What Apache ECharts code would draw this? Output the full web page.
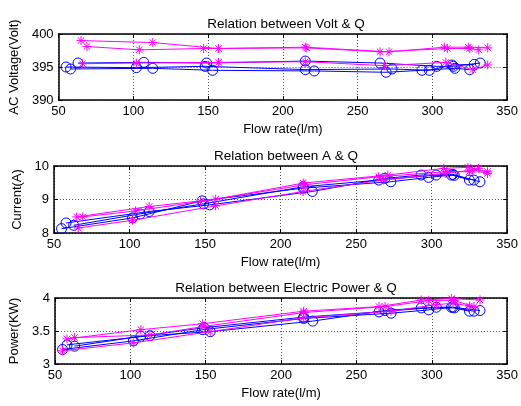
<!DOCTYPE html>
<html><head><meta charset="utf-8">
<script src="https://cdn.jsdelivr.net/npm/echarts@6/dist/echarts.min.js"></script>
<style>html,body{margin:0;padding:0;background:#fff}#c{width:521px;height:406px}</style>
</head><body><div id="c"></div>
<script>
// Flow rates (l/m) for the three blue (o) runs – shared by all panels
const flowBlue1 = [63, 107, 149, 215, 265, 303, 314, 332];
const flowBlue2 = [55, 102, 148, 215, 273, 298, 313, 328];
const flowBlue3 = [58, 113, 153, 221, 269, 293, 315, 325];
// Flow rates for magenta (*) runs in Volt and Current panels
const flowMag1 = [65, 113, 157, 215, 271, 308, 324, 337];
const flowMag2 = [69, 104, 147, 216, 265, 310, 325, 331];
const flowMag3 = [66, 102, 157, 215, 268, 309, 327, 337];
// Flow rates for magenta (*) runs in Power panel
const flowPow1 = [58, 107, 148, 215, 265, 293, 313, 332];
const flowPow2 = [63, 113, 149, 215, 269, 298, 315, 328];
const flowPow3 = [55, 102, 153, 215, 273, 303, 314, 325];

// Voltage (Volt)
const voltBlue1 = [395.6, 395.7, 395.6, 395.9, 395.6, 395.1, 395.1, 395.6];
const voltBlue2 = [395.0, 394.9, 395.1, 394.6, 394.7, 394.5, 395.3, 395.4];
const voltBlue3 = [394.7, 394.8, 394.5, 394.4, 394.2, 394.5, 394.8, 394.6];
const voltMag1 = [399.0, 398.7, 397.8, 398.0, 397.3, 398.0, 398.0, 397.9];
const voltMag2 = [398.1, 397.6, 397.8, 397.9, 397.3, 397.8, 397.8, 397.6];
const voltMag3 = [395.5, 395.6, 395.7, 395.8, 395.2, 395.7, 394.6, 395.3];

// Current (A)
const ampBlue1 = [8.23, 8.57, 8.87, 9.38, 9.58, 9.73, 9.75, 9.53];
const ampBlue2 = [8.13, 8.45, 8.96, 9.34, 9.53, 9.66, 9.73, 9.58];
const ampBlue3 = [8.30, 8.64, 8.84, 9.24, 9.63, 9.73, 9.72, 9.58];
const ampMag1 = [8.48, 8.79, 9.01, 9.49, 9.73, 9.93, 9.96, 9.83];
const ampMag2 = [8.48, 8.66, 8.94, 9.44, 9.68, 9.83, 9.83, 9.93];
const ampMag3 = [8.15, 8.38, 8.81, 9.24, 9.58, 9.78, 9.88, 9.78];

// Power (KW)
const powBlue1 = [3.27, 3.42, 3.55, 3.71, 3.79, 3.86, 3.86, 3.81];
const powBlue2 = [3.22, 3.35, 3.52, 3.69, 3.77, 3.82, 3.86, 3.80];
const powBlue3 = [3.29, 3.43, 3.49, 3.65, 3.81, 3.85, 3.85, 3.80];
const powMag1 = [3.38, 3.52, 3.61, 3.80, 3.87, 3.97, 3.99, 3.97];
const powMag2 = [3.40, 3.44, 3.57, 3.78, 3.87, 3.96, 3.96, 3.87];
const powMag3 = [3.20, 3.32, 3.49, 3.70, 3.80, 3.90, 3.92, 3.88];

const titles = ['Relation between Volt & Q', 'Relation between A & Q', 'Relation between Electric Power & Q'];
const yNames = ['AC Voltage(Volt)', 'Current(A)', 'Power(KW)'];
const yRanges = [[390, 400, 5], [8, 10, 1], [3, 4, 0.5]];
const xRange = [50, 350, 50];
const xName = 'Flow rate(l/m)';

const FONT = 'Liberation Sans, Arial, sans-serif';
const gridTops = [34, 166, 298];
const gridH = [66, 67, 66];
const yNameGaps = [32, 25, 30];

const zip = (xs, ys) => xs.map((x, i) => [x, ys[i]]);
const star = 'path://M0,-5L0,5M-5,0L5,0M-3.6,-3.6L3.6,3.6M-3.6,3.6L3.6,-3.6';

const grids = [], xAxes = [], yAxes = [], series = [], titleArr = [];
const blueSets = [[voltBlue1, voltBlue2, voltBlue3], [ampBlue1, ampBlue2, ampBlue3], [powBlue1, powBlue2, powBlue3]];
const magSets = [[voltMag1, voltMag2, voltMag3], [ampMag1, ampMag2, ampMag3], [powMag1, powMag2, powMag3]];
const blueFlows = [flowBlue1, flowBlue2, flowBlue3];
const magFlows = [[flowMag1, flowMag2, flowMag3], [flowMag1, flowMag2, flowMag3], [flowPow1, flowPow2, flowPow3]];

for (let p = 0; p < 3; p++) {
  grids.push({left: 54, width: 455, top: gridTops[p], height: gridH[p], containLabel: false});
  titleArr.push({text: titles[p], left: 281, top: gridTops[p] - 22, textAlign: 'center',
    textStyle: {fontFamily: FONT, fontSize: 13.5, fontWeight: 'normal', color: '#000'}});
  const axLine = {show: true, lineStyle: {color: '#000', width: 1.5}};
  const grid = {show: true, lineStyle: {color: '#555', type: [1, 2], width: 1}};
  xAxes.push({type: 'value', gridIndex: p, min: xRange[0], max: xRange[1], interval: xRange[2],
    position: 'bottom', axisLine: axLine, axisTick: {inside: true, length: 4, lineStyle: {color: '#000'}},
    axisLabel: {fontFamily: FONT, fontSize: 13, color: '#000', margin: 5},
    splitLine: grid, name: xName, nameLocation: 'middle', nameGap: 23,
    nameTextStyle: {fontFamily: FONT, fontSize: 13, color: '#000'}});
  xAxes.push({type: 'value', gridIndex: p, min: xRange[0], max: xRange[1], interval: xRange[2],
    position: 'top', axisLine: axLine, axisTick: {inside: true, length: 4, lineStyle: {color: '#000'}},
    axisLabel: {show: false}, splitLine: {show: false}});
  const r = yRanges[p];
  yAxes.push({type: 'value', gridIndex: p, min: r[0], max: r[1], interval: r[2], position: 'left',
    axisLine: axLine, axisTick: {inside: true, length: 4, lineStyle: {color: '#000'}},
    axisLabel: {fontFamily: FONT, fontSize: 13, color: '#000', margin: 5},
    splitLine: grid, name: yNames[p], nameLocation: 'middle', nameGap: yNameGaps[p], nameRotate: 90,
    nameTextStyle: {fontFamily: FONT, fontSize: 13, color: '#000'}});
  yAxes.push({type: 'value', gridIndex: p, min: r[0], max: r[1], interval: r[2], position: 'right',
    axisLine: axLine, axisTick: {inside: true, length: 4, lineStyle: {color: '#000'}},
    axisLabel: {show: false}, splitLine: {show: false}});

  for (let k = 0; k < 3; k++) {
    series.push({type: 'line', xAxisIndex: 2 * p, yAxisIndex: 2 * p,
      data: zip(blueFlows[k], blueSets[p][k]), symbol: 'circle', symbolSize: 10,
      lineStyle: {color: '#0000ff', width: 1}, itemStyle: {color: 'rgba(0,0,0,0)', borderColor: '#0000ff', borderWidth: 1},
      animation: false, z: 3});
  }
  for (let k = 0; k < 3; k++) {
    series.push({type: 'line', xAxisIndex: 2 * p, yAxisIndex: 2 * p,
      data: zip(magFlows[p][k], magSets[p][k]), symbol: star, symbolSize: 9,
      lineStyle: {color: '#ff00ff', width: 1}, itemStyle: {color: 'rgba(0,0,0,0)', borderColor: '#ff00ff', borderWidth: 1},
      animation: false, z: 4});
  }
}

const chart = echarts.init(document.getElementById('c'), null, {renderer: 'canvas'});
chart.setOption({animation: false, backgroundColor: '#fff', title: titleArr, grid: grids,
  xAxis: xAxes, yAxis: yAxes, series: series});
</script>
</body></html>
